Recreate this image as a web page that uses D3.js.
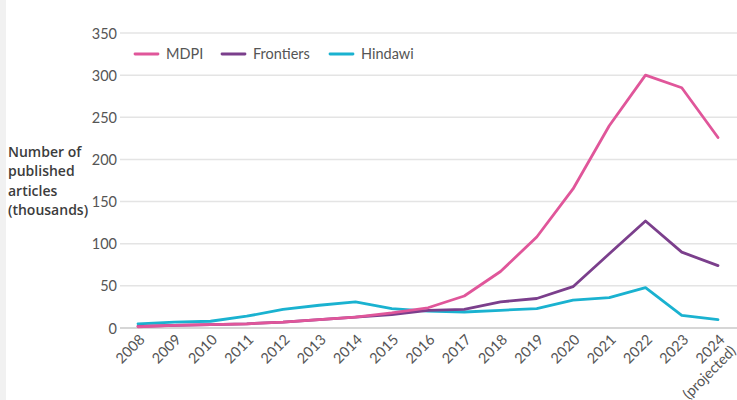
<!DOCTYPE html>
<html><head><meta charset="utf-8">
<script src="https://cdn.jsdelivr.net/npm/d3@7"></script>
<style>
html,body{margin:0;padding:0;background:#fff;}
</style></head>
<body>
<svg id="chart" width="737" height="400"></svg>
<script>
const years = ["2008","2009","2010","2011","2012","2013","2014","2015","2016","2017","2018","2019","2020","2021","2022","2023","2024"];
const mdpi = [1.5,3,4,5,7,10,13,18,24,38,67,108,165,240,300,285,226];
const frontiers = [2,3,4,5,7,10,13,16,21,22,31,35,49,88,127,90,74];
const hindawi = [5,7,8,14,22,27,31,23,20,19,21,23,33,36,48,15,10];
const yTicks = [0,50,100,150,200,250,300,350];
const seriesNames = ["MDPI","Frontiers","Hindawi"];
const seriesColors = ["#e0569a","#7b3f8c","#1ab2d0"];
const seriesValues = [mdpi, frontiers, hindawi];
const FONT = "Lato,'Open Sans',sans-serif";

const svg = d3.select("#chart");
svg.append("rect").attr("x",0).attr("y",0).attr("width",6).attr("height",400).attr("fill","#f1f1f1");

const x = d3.scalePoint().domain(years).range([138,718]);
const y = d3.scaleLinear().domain([0,350]).range([328,33]);

// gridlines
svg.append("g").selectAll("line").data(yTicks).join("line")
  .attr("x1",120).attr("x2",737)
  .attr("y1",d=>y(d)).attr("y2",d=>y(d))
  .attr("stroke",d=>d===0?"#d6d6d6":"#e4e4e4")
  .attr("stroke-width",d=>d===0?2:1.5);

// y tick labels
const yAxis = d3.axisLeft(y).tickValues(yTicks).tickSize(0).tickPadding(0);
const ya = svg.append("g").attr("transform","translate(117,0)").call(yAxis);
ya.select(".domain").remove();
ya.selectAll("text").style("font-size","14.5px").style("fill","#555").style("font-family",FONT).attr("dy","0.35em");

// x tick labels
const xa = svg.append("g");
years.forEach(yr=>{
  const g = xa.append("g").attr("transform",`translate(${x(yr)+4},${337}) rotate(-45)`);
  g.append("text").attr("text-anchor","end").style("font-size","14.5px").style("font-family",FONT).style("fill","#555").attr("dy","0.35em").text(yr);
  if(yr==="2024"){
    g.append("text").attr("text-anchor","end").style("font-size","14.5px").style("font-family",FONT).style("fill","#555").attr("x",0).attr("dy","1.45em").text("(projected)");
  }
});

// y axis title
const titleLines = ["Number of","published","articles","(thousands)"];
svg.append("g").selectAll("text").data(titleLines).join("text")
  .attr("x",8).attr("y",(d,i)=>157+i*19.3)
  .style("font-family","'Open Sans',Lato,sans-serif")
  .style("font-size","14px").style("font-weight","600").style("fill","#3c3c3c")
  .text(d=>d);

// lines
const line = d3.line().x((d,i)=>x(years[i])).y(d=>y(d)).curve(d3.curveLinear);
[2,1,0].forEach(k=>{
  svg.append("path").datum(seriesValues[k])
    .attr("d",line).attr("fill","none")
    .attr("stroke",seriesColors[k]).attr("stroke-width",2.8)
    .attr("stroke-linejoin","round").attr("stroke-linecap","round");
});

// legend
const legX = [135,222,330];
seriesNames.forEach((n,i)=>{
  svg.append("line").attr("x1",legX[i]).attr("x2",legX[i]+23).attr("y1",54).attr("y2",54)
    .attr("stroke",seriesColors[i]).attr("stroke-width",2.8).attr("stroke-linecap","round");
  svg.append("text").attr("x",legX[i]+31).attr("y",54).attr("dy","0.35em")
    .style("font-size","14.5px").style("font-family",FONT).style("fill","#555").text(n);
});
</script>
</body></html>
